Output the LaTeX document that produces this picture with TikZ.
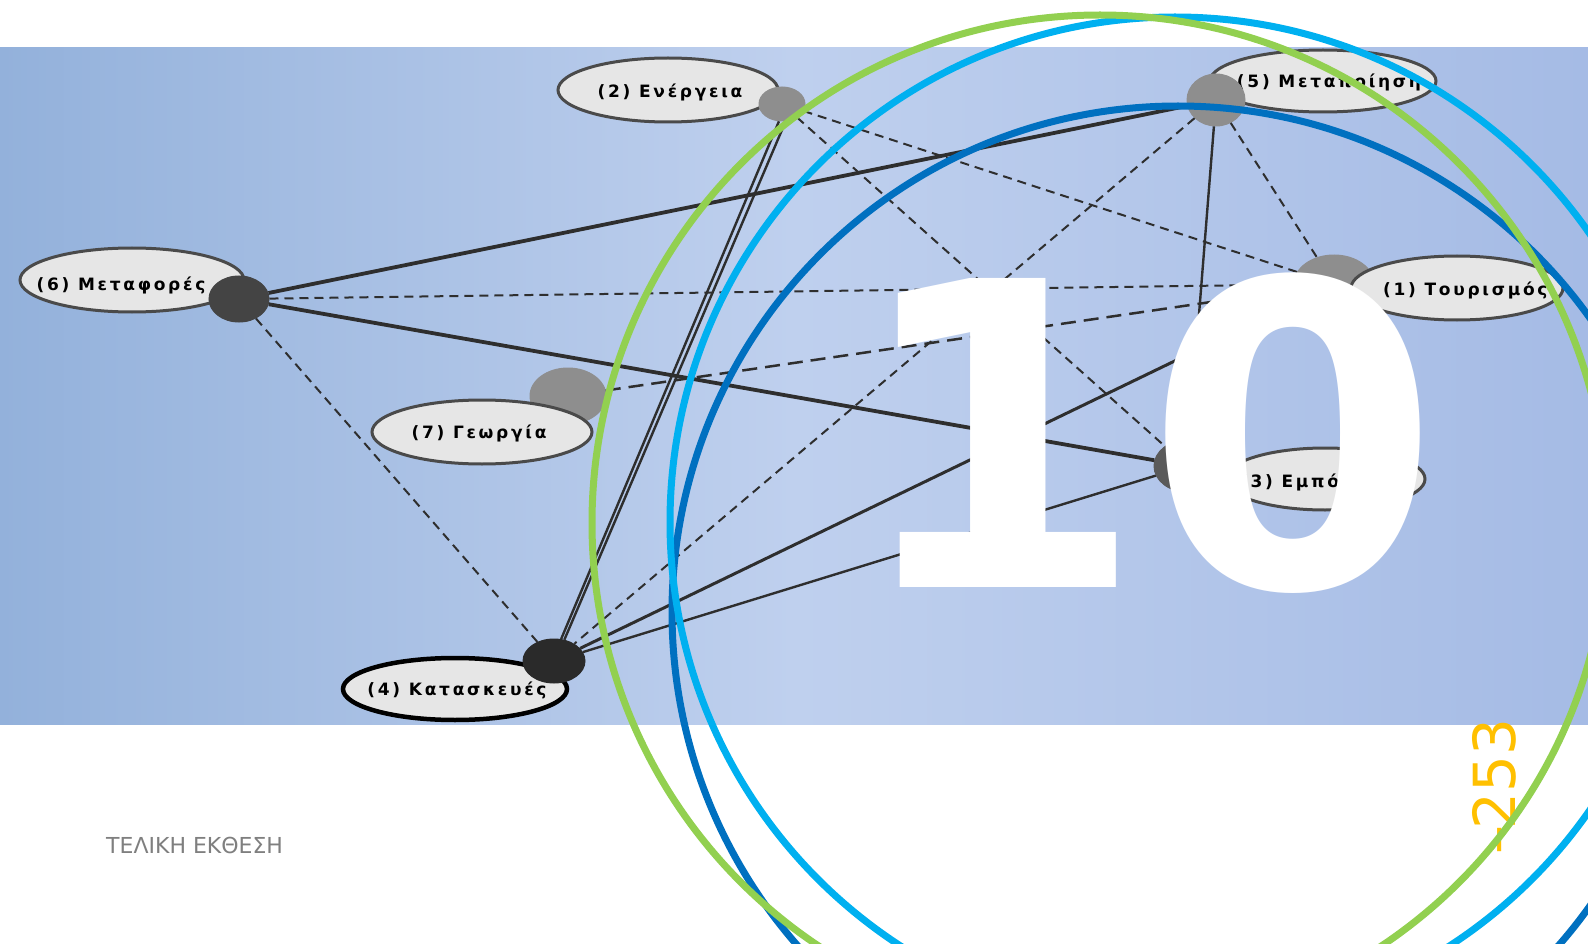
\documentclass[tikz,border=0pt]{standalone}
\usepackage{fontspec}
\setmainfont{DejaVu Sans}
\newfontfamily\nodefont[LetterSpace=16]{DejaVu Sans Bold}
\newfontfamily\bigfont{DejaVu Sans Bold}
\usetikzlibrary{shapes.geometric}
\definecolor{ringgreen}{HTML}{92D050}
\definecolor{ringcyan}{HTML}{00B0F0}
\definecolor{ringblue}{HTML}{0070C0}
\definecolor{pagegold}{HTML}{FFC000}
\definecolor{bandL}{HTML}{93B1DB}
\definecolor{bandM}{HTML}{BFD0EE}
\definecolor{bandR}{HTML}{A5BBE5}
\definecolor{ellfill}{HTML}{E6E6E6}
\definecolor{ellline}{HTML}{4A4A4A}
\definecolor{edgecol}{HTML}{2E2E2E}
\definecolor{titlegray}{HTML}{7F7F7F}
\definecolor{blobgray}{HTML}{8E8E8E}
\definecolor{blobmid}{HTML}{5A5A5A}
\definecolor{blobdark}{HTML}{444444}
\definecolor{blobblack}{HTML}{2A2A2A}
\begin{document}
\begin{tikzpicture}[x=1pt,y=-1pt,
  labelell/.style={ellipse, draw=ellline, line width=3pt, fill=ellfill, inner sep=0pt},
  blob/.style={ellipse, inner sep=0pt, fill=#1, draw=#1, line width=1pt},
  lbl/.style={inner sep=0pt, text=black, font=\nodefont\fontsize{17}{17}\selectfont},
  solidedge/.style={draw=edgecol, line width=2.4pt},
  thickedge/.style={draw=edgecol, line width=3.8pt},
  dashededge/.style={draw=edgecol, line width=2pt, dash pattern=on 9pt off 6pt},
  longdashedge/.style={draw=edgecol, line width=2.5pt, dash pattern=on 15pt off 8pt},
  ring/.style={line width=7pt}]
\useasboundingbox (0,0) rectangle (1588,944);
\clip (0,0) rectangle (1588,944);
\fill[white] (0,0) rectangle (1588,944);
\shade[left color=bandL, right color=bandR, middle color=bandM] (0,48) rectangle (1588,724);

% (2)
\node[labelell, minimum width=220pt, minimum height=64pt] (e2) at (668,90) {};
\node[lbl] (t2) at (670,92) {(2) Ενέργεια};
\node[blob=blobgray, minimum width=46pt, minimum height=34pt] (c2) at (782,104) {};
% (5)
\node[labelell, minimum width=226pt, minimum height=62pt] (e5) at (1323,81) {};
\node[lbl] (t5) at (1329,82) {(5) Μεταποίηση};
\node[blob=blobgray, minimum width=58pt, minimum height=52pt] (c5) at (1216,100) {};
% (6)
\node[labelell, minimum width=224pt, minimum height=64pt] (e6) at (132,280) {};
\node[lbl] (t6) at (121,285) {(6) Μεταφορές};
\node[blob=blobdark, minimum width=60pt, minimum height=46pt] (c6) at (239,299) {};
% (1)
\node[blob=blobgray, minimum width=80pt, minimum height=58pt] (c1) at (1334,284) {};
\node[labelell, minimum width=212pt, minimum height=64pt] (e1) at (1457,288) {};
\node[lbl, anchor=west] (t1) at (1383,290) {(1) Τουρισμός};
% (7)
\node[blob=blobgray, minimum width=76pt, minimum height=56pt] (c7) at (568,396) {};
\node[labelell, minimum width=220pt, minimum height=64pt] (e7) at (482,432) {};
\node[lbl] (t7) at (479,433) {(7) Γεωργία};
% (3)
\node[labelell, minimum width=200pt, minimum height=62pt] (e3) at (1325,479) {};
\node[lbl, anchor=west] (t3) at (1240,482) {(3) Εμπόριο};
\node[blob=blobmid, minimum width=66pt, minimum height=52pt] (c3) at (1187,466) {};
% (4)
\node[labelell, draw=black, line width=4.5pt, minimum width=224pt, minimum height=62pt] (e4) at (455,689) {};
\node[lbl] (t4) at (457,690) {(4) Κατασκευές};
\node[blob=blobblack, minimum width=62pt, minimum height=44pt] (c4) at (554,661) {};

% connectors
\draw[thickedge] (c6) -- (c5);
\draw[thickedge] (c6) -- (c3);
\draw[dashededge] (c6) -- (c1);
\draw[dashededge] (c6) -- (c4);
\draw[solidedge] (c2.260) -- (c4.72);
\draw[solidedge] (c2.282) -- (c4.64);
\draw[dashededge] (c2) -- (c1);
\draw[dashededge] (c2) -- (c3);
\draw[solidedge] (c5) -- (c3);
\draw[dashededge] (c5) -- (c4);
\draw[dashededge] (c5) -- (c1);
\draw[longdashedge] (c7) -- (c1);
\draw[thickedge, line width=3pt] (c4) -- (c1);
\draw[solidedge] (c4) -- (c3);

% big chapter number
\node[anchor=base west, inner sep=0pt, text=white, font=\bigfont\fontsize{424}{424}\selectfont] (ten) at (850,587) {10};

% footer
\node[anchor=base west, inner sep=0pt, text=titlegray, font=\fontsize{22}{22}\selectfont] (title) at (106,853) {ΤΕΛΙΚΗ ΕΚΘΕΣΗ};
\node[rotate=90, anchor=base west, inner sep=0pt, text=pagegold, font=\fontsize{58}{58}\selectfont] (pnum) at (1515,855) {–\kern-4pt253};

% rings
\draw[ring, ringblue] (1178,612) circle[radius=506pt];
\draw[ring, ringcyan] (1175,522) circle[radius=505pt];
\draw[ring, ringgreen] (1100,523) circle[radius=508pt];
\end{tikzpicture}
\end{document}
